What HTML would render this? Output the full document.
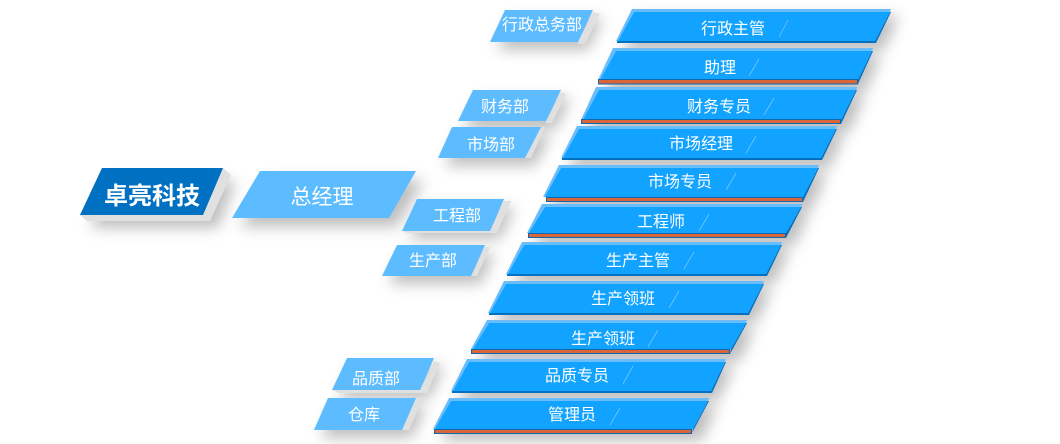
<!DOCTYPE html>
<html>
<head>
<meta charset="utf-8">
<style>
html,body{margin:0;padding:0;background:#fff;width:1060px;height:444px;overflow:hidden}
svg{display:block}
text{font-family:"Liberation Sans","Noto Sans CJK SC",sans-serif;fill:#fff;text-anchor:middle}
.t{font-size:16px}
.l{stroke:#9fd4ff;stroke-width:.8;opacity:.7}
.s{fill:#000;opacity:.25}
.g{fill:#e0e0e0}
.d{fill:#5cbcff}
.lt{fill:#69bdfb}
.m{fill:#11a3ff}
.dk{fill:#0570c0}
.o{fill:#d9663a;stroke:#0f67ad;stroke-width:1}
</style>
</head>
<body>
<svg width="1060" height="444" viewBox="0 0 1060 444" xmlns="http://www.w3.org/2000/svg">
<defs>
<filter id="b" x="-30%" y="-60%" width="160%" height="260%"><feGaussianBlur stdDeviation="7"/></filter>
</defs>

<!-- shadows -->
<g filter="url(#b)">
<polygon class="s" points="90,228 112,181 236,181 218,228"/>
<polygon class="s" points="240,227 269,180 424,180 397,227"/>
<polygon class="s" points="497,50 512,18 603,18 588,50"/>
<polygon class="s" points="465,129 480,98 571,98 556,129"/>
<polygon class="s" points="445,166 459,135 551,135 535,166"/>
<polygon class="s" points="409,239 424,207 515,207 500,239"/>
<polygon class="s" points="389,284 404,253 495,253 481,284"/>
<polygon class="s" points="339,398 354,366 444,366 430,398"/>
<polygon class="s" points="321,438 335,406 426,406 412,438"/>
<polygon class="s" points="624,50 640,16 899,16 884,50"/>
<polygon class="s" points="606,91 622,55 881,55 866,91"/>
<polygon class="s" points="589,131 605,94 865,94 850,131"/>
<polygon class="s" points="569,167 585,133 845,133 830,167"/>
<polygon class="s" points="551,209 567,172 827,172 812,209"/>
<polygon class="s" points="535,245 551,211 810,211 795,245"/>
<polygon class="s" points="514,283 530,249 790,249 775,283"/>
<polygon class="s" points="496,322 512,288 772,288 757,322"/>
<polygon class="s" points="479,361 495,327 755,327 740,361"/>
<polygon class="s" points="459,400 475,366 734,366 719,400"/>
<polygon class="s" points="441,441 457,405 717,405 702,441"/>
</g>

<!-- company -->
<polygon class="g" points="80,215 102,168 223,168 231,175 210,221 87,221"/>
<polygon fill="#0070c2" points="80,215 102,168 223,168 209,201 203,215"/>
<text x="152" y="204" font-size="24" font-weight="bold">卓亮科技</text>

<!-- general manager -->
<polygon class="d" points="232,218 260,171 416,171 389,218"/>
<text x="322" y="204" font-size="21">总经理</text>

<!-- departments -->
<polygon class="g" points="578,42 593,12 600,14 585,44 578,44"/>
<polygon class="d" points="490,42 505,10 593,10 578,42"/>
<text class="t" x="542" y="30">行政总务部</text>

<polygon class="g" points="546,121 561,92 566,94 552,123 546,123"/>
<polygon class="d" points="458,121 473,90 561,90 546,121"/>
<text class="t" x="505" y="112">财务部</text>

<polygon class="g" points="525,158 541,127 545,127 531,158"/>
<polygon class="d" points="438,158 452,127 541,127 525,158"/>
<text class="t" x="491" y="150">市场部</text>

<polygon class="g" points="490,231 504,201 511,201 497,233 408,233 402,231"/>
<polygon class="d" points="402,231 417,199 504,199 490,231"/>
<text class="t" x="457" y="221">工程部</text>

<polygon class="g" points="471,276 485,247 490,247 477,276"/>
<polygon class="d" points="382,276 397,245 485,245 471,276"/>
<text class="t" x="433" y="266">生产部</text>

<polygon class="g" points="420,390 434,361 440,363 427,393 339,393 332,390"/>
<polygon class="d" points="332,390 347,358 434,358 420,390"/>
<text class="t" x="376" y="384">品质部</text>

<polygon class="g" points="402,430 416,398 423,398 409,430"/>
<polygon class="d" points="314,430 328,398 416,398 402,430"/>
<text class="t" x="364" y="420">仓库</text>

<!-- row 1 -->
<polygon class="lt" points="616,41 632,9 891,9 890,12 634,12 619,41"/>
<polygon class="m" points="618,41 634,12 890,12 875,41"/>
<polygon class="dk" points="617,41 875,41 890,12 891,12 876,43 617,43"/>
<text class="t" x="733" y="34">行政主管</text>
<line class="l" x1="779" y1="37" x2="788" y2="20"/>

<!-- row 2 -->
<polygon class="lt" points="598,80 613,48 873,48 872,51 616,51 601,80"/>
<polygon class="m" points="600,80 616,51 872,51 858,80"/>
<polygon class="dk" points="858,80 872,51 873,51 858,84"/>
<rect class="o" x="598.500" y="79.500" width="259" height="4.500"/>
<text class="t" x="720" y="73">助理</text>
<line class="l" x1="749" y1="76" x2="759" y2="59"/>

<!-- row 3 -->
<polygon class="lt" points="581,120 596,87 857,87 856,90 599,90 584,120"/>
<polygon class="m" points="583,120 599,90 856,90 841,120"/>
<polygon class="dk" points="841,120 856,90 857,90 841,124"/>
<rect class="o" x="581.500" y="119.500" width="259" height="4"/>
<text class="t" x="719" y="112">财务专员</text>
<line class="l" x1="764" y1="115" x2="774" y2="98"/>

<!-- row 4 -->
<polygon class="lt" points="561,158 577,126 837,126 836,129 579,129 564,158"/>
<polygon class="m" points="563,158 579,129 836,129 821,158"/>
<polygon class="dk" points="562,158 821,158 836,129 837,129 822,160 562,160"/>
<text class="t" x="701" y="149">市场经理</text>
<line class="l" x1="746" y1="153" x2="756" y2="136"/>

<!-- row 5 -->
<polygon class="lt" points="543,197 559,165 819,165 818,168 561,168 546,197"/>
<polygon class="m" points="545,197 561,168 818,168 803,197"/>
<polygon class="dk" points="803,197 818,168 819,168 803,202"/>
<rect class="o" x="546.500" y="197.500" width="256" height="4"/>
<text class="t" x="680" y="187">市场专员</text>
<line class="l" x1="726" y1="190" x2="736" y2="173"/>

<!-- row 6 -->
<polygon class="lt" points="527,233 542,204 802,204 801,207 545,207 530,233"/>
<polygon class="m" points="529,233 545,207 801,207 786,233"/>
<polygon class="dk" points="786,233 801,207 802,207 786,238"/>
<rect class="o" x="528.500" y="233.500" width="257" height="4"/>
<text class="t" x="661" y="227">工程师</text>
<line class="l" x1="699" y1="231" x2="709" y2="214"/>

<!-- row 7 -->
<polygon class="lt" points="506,274 522,242 782,242 781,245 524,245 509,274"/>
<polygon class="m" points="508,274 524,245 781,245 766,274"/>
<polygon class="dk" points="507,274 766,274 781,245 782,245 767,276 507,276"/>
<text class="t" x="638" y="266">生产主管</text>
<line class="l" x1="684" y1="269" x2="694" y2="252"/>

<!-- row 8 -->
<polygon class="lt" points="488,313 504,281 764,281 763,284 506,284 491,313"/>
<polygon class="m" points="490,313 506,284 763,284 748,313"/>
<polygon class="dk" points="489,313 748,313 763,284 764,284 749,315 489,315"/>
<text class="t" x="623" y="304">生产领班</text>
<line class="l" x1="669" y1="308" x2="679" y2="291"/>

<!-- row 9 -->
<polygon class="lt" points="471,349 487,320 747,320 746,323 489,323 474,349"/>
<polygon class="m" points="473,349 489,323 746,323 731,349"/>
<polygon class="dk" points="731,349 746,323 747,323 730,354"/>
<rect class="o" x="471.500" y="349.500" width="258" height="4"/>
<text class="t" x="603" y="344">生产领班</text>
<line class="l" x1="648" y1="347" x2="658" y2="330"/>

<!-- row 10 -->
<polygon class="lt" points="451,391 467,359 726,359 725,362 469,362 454,391"/>
<polygon class="m" points="453,391 469,362 725,362 711,391"/>
<polygon class="dk" points="452,391 711,391 725,362 726,362 712,393 452,393"/>
<text class="t" x="577" y="381">品质专员</text>
<line class="l" x1="623" y1="384" x2="633" y2="366"/>

<!-- row 11 -->
<polygon class="lt" points="433,429 449,398 709,398 708,401 451,401 436,429"/>
<polygon class="m" points="435,429 451,401 708,401 693,429"/>
<polygon class="dk" points="693,429 708,401 709,401 692,433"/>
<rect class="o" x="434.500" y="429.500" width="257" height="4"/>
<text class="t" x="572" y="420">管理员</text>
<line class="l" x1="610" y1="425" x2="620" y2="408"/>
</svg>
</body>
</html>
